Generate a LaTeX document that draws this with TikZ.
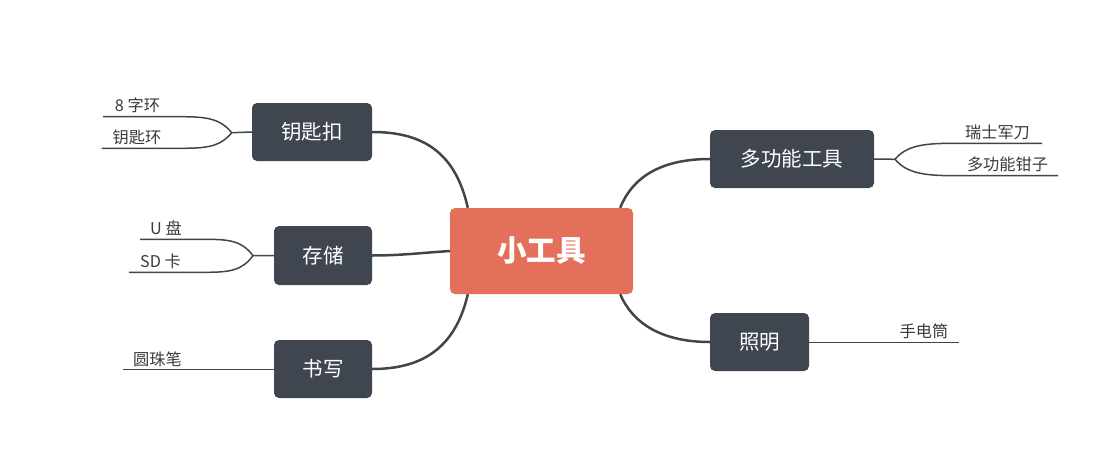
\documentclass[tikz,border=0pt]{standalone}
\usepackage{fontspec}
\usetikzlibrary{calc}
\setmainfont{Noto Sans CJK SC}
\definecolor{hubfill}{HTML}{E4705B}
\definecolor{boxfill}{HTML}{3F4650}
\definecolor{linec}{HTML}{40454D}
\definecolor{leaftext}{HTML}{3A3A3A}
\tikzset{
  hub/.style={fill=hubfill, rounded corners=5pt, text=white, font=\fontsize{29.5}{32}\selectfont\bfseries, inner sep=0pt},
  topic/.style={fill=boxfill, rounded corners=5pt, text=white, font=\fontsize{20.5}{24}\selectfont, inner sep=0pt},
  leaf/.style={text=leaftext, font=\fontsize{16.2}{18}\selectfont, inner sep=0pt},
  mainlink/.style={draw=linec, line width=2.5pt},
  leaflink/.style={draw=linec, line width=1.5pt},
}
\begin{document}
\begin{tikzpicture}[x=1pt, y=-1pt]
\useasboundingbox (0,0) rectangle (1120,474);
% central
\node[hub, minimum width=183pt, minimum height=86pt] (c) at (541.5,251) {小工具};
% topics
\node[topic, minimum width=120pt, minimum height=58pt] (key) at (312,132) {钥匙扣};
\node[topic, minimum width=98pt, minimum height=59pt] (sto) at (323,255.5) {存储};
\node[topic, minimum width=98pt, minimum height=58pt] (wri) at (323,369) {书写};
\node[topic, minimum width=164pt, minimum height=58pt] (mul) at (792,159) {多功能工具};
\node[topic, minimum width=99pt, minimum height=58pt] (lig) at (759.5,342) {照明};
% leaves
\node[leaf] (l1) at (137.5,105) {8 字环};
\node[leaf] (l2) at (137,137.5) {钥匙环};
\node[leaf] (l3) at (166,228.5) {U 盘};
\node[leaf] (l4) at (160.5,261) {SD 卡};
\node[leaf] (l5) at (157.5,359) {圆珠笔};
\node[leaf] (l6) at (997.5,132.5) {瑞士军刀};
\node[leaf] (l7) at (1007.5,164) {多功能钳子};
\node[leaf] (l8) at (924,331) {手电筒};
% coordinates
\coordinate (fk) at (231.7,132.7);
\coordinate (fs) at (253,255.7);
\coordinate (fm) at (895,159.3);
\coordinate (e1) at (103,116.7);
\coordinate (e2) at (101.7,148.3);
\coordinate (e3) at (140,239.3);
\coordinate (e4) at (129,272.3);
\coordinate (e5) at (123,369.3);
\coordinate (e6) at (1042,143.3);
\coordinate (e7) at (1058,175.7);
\coordinate (e8) at (959,342.3);
% main links
\draw[mainlink] ($(c.north west)+(18,0)$) .. controls (455,150) and (420,132) .. (key.east);
\draw[mainlink] (c.west) .. controls (420,253) and (400,255.5) .. (sto.east);
\draw[mainlink] ($(c.south west)+(18,0)$) .. controls (455,350) and (420,369) .. (wri.east);
\draw[mainlink] ($(c.north east)+(-13,0)$) .. controls (632,178) and (660,159) .. (mul.west);
\draw[mainlink] ($(c.south east)+(-13,0)$) .. controls (632,322) and (660,342) .. (lig.west);
% leaf links
\draw[leaflink] (key.west) -- (fk);
\draw[leaflink] (fk) .. controls (220,118) and (205,116.7) .. (180,116.7) -- (e1);
\draw[leaflink] (fk) .. controls (220,147.3) and (205,148.3) .. (180,148.3) -- (e2);
\draw[leaflink] (sto.west) -- (fs);
\draw[leaflink] (fs) .. controls (242,241) and (230,239.3) .. (205,239.3) -- (e3);
\draw[leaflink] (fs) .. controls (242,270.5) and (230,272.3) .. (205,272.3) -- (e4);
\draw[leaflink] (wri.west |- e5) -- (e5);
\draw[leaflink] (mul.east) -- (fm);
\draw[leaflink] (fm) .. controls (907,145) and (925,143.3) .. (955,143.3) -- (e6);
\draw[leaflink] (fm) .. controls (907,173.5) and (925,175.7) .. (955,175.7) -- (e7);
\draw[leaflink] (lig.east |- e8) -- (e8);
\end{tikzpicture}
\end{document}
